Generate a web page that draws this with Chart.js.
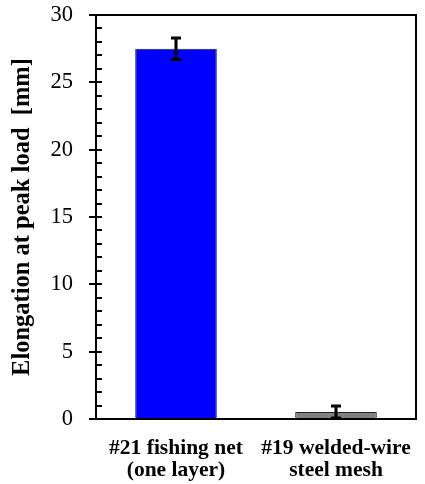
<!DOCTYPE html>
<html>
<head>
<meta charset="utf-8">
<script src="https://cdn.jsdelivr.net/npm/chart.js@4.4.1/dist/chart.umd.min.js"></script>
<style>
  html, body { margin: 0; padding: 0; background: #fff; }
  #wrap { width: 425px; height: 484px; }
</style>
</head>
<body>
<div id="wrap"><canvas id="elongChart" width="425" height="484"></canvas></div>
<script>
var categories = [['#21 fishing net', '(one layer)'], ['#19 welded-wire', 'steel mesh']];
var elongation = [27.5, 0.52];
var errors = [0.8, 0.45];
var barColors = ['#0000ff', '#808080'];

var serif = '"Liberation Serif", "Times New Roman", serif';

// tick marks crossing the y axis + box frame
var frame = {
    id: 'frame',
    afterDraw: function (chart) {
        var c = chart.ctx, a = chart.chartArea, y = chart.scales.y;
        c.save();
        c.strokeStyle = '#000';
        c.lineWidth = 2;
        for (var v = 0; v <= 30; v++) {
            var py = Math.round(y.getPixelForValue(v));
            c.beginPath();
            if (v % 5 === 0) { c.moveTo(a.left - 7, py); } else { c.moveTo(a.left, py); }
            c.lineTo(a.left + 6, py);
            c.stroke();
        }
        c.beginPath();
        c.moveTo(a.left, a.bottom);
        c.lineTo(a.left, a.top);
        c.lineTo(a.right, a.top);
        c.lineTo(a.right, a.bottom);
        c.lineTo(a.left, a.bottom);
        c.stroke();
        c.restore();
    }
};

var errorBars = {
    id: 'errorBars',
    afterDatasetsDraw: function (chart) {
        var c = chart.ctx, y = chart.scales.y;
        var meta = chart.getDatasetMeta(0);
        c.save();
        c.strokeStyle = '#000';
        c.lineWidth = 3;
        meta.data.forEach(function (bar, i) {
            var hi = y.getPixelForValue(elongation[i] + errors[i]);
            var lo = y.getPixelForValue(elongation[i] - errors[i]);
            c.beginPath();
            c.moveTo(bar.x, hi); c.lineTo(bar.x, lo);
            c.moveTo(bar.x - 5, hi); c.lineTo(bar.x + 5, hi);
            c.moveTo(bar.x - 5, lo); c.lineTo(bar.x + 5, lo);
            c.stroke();
        });
        c.restore();
    }
};

var ctx = document.getElementById('elongChart').getContext('2d');
var chart = new Chart(ctx, {
    type: 'bar',
    data: {
        labels: categories,
        datasets: [{
            data: elongation,
            backgroundColor: barColors,
            borderColor: '#222',
            borderWidth: 1,
            borderSkipped: false,
            barPercentage: 0.51,
            categoryPercentage: 1.0
        }]
    },
    options: {
        responsive: false,
        animation: false,
        layout: { padding: { top: 15, right: 9, left: 0, bottom: 0 } },
        plugins: { legend: { display: false }, tooltip: { enabled: false } },
        scales: {
            x: {
                grid: { display: false },
                border: { display: false },
                ticks: {
                    color: '#000',
                    padding: 10,
                    maxRotation: 0,
                    font: { family: serif, size: 21.5, weight: 'bold', lineHeight: 1.05 }
                },
                afterFit: function (s) {
                    s.height = 65;
                    s.paddingLeft = 0;
                    s.paddingRight = 0;
                }
            },
            y: {
                min: 0,
                max: 30,
                grid: { display: false },
                border: { display: false },
                ticks: {
                    stepSize: 5,
                    color: '#000',
                    padding: 15,
                    font: { family: serif, size: 22.5 }
                },
                title: {
                    display: true,
                    text: 'Elongation at peak load  [mm]',
                    color: '#000',
                    padding: { top: 8, bottom: 0 },
                    font: { family: serif, size: 24.5, weight: 'bold', lineHeight: 1.2 }
                },
                afterFit: function (s) {
                    s.width = 96;
                    s.paddingTop = 0;
                    s.paddingBottom = 0;
                }
            }
        }
    },
    plugins: [frame, errorBars]
});
</script>
</body>
</html>
